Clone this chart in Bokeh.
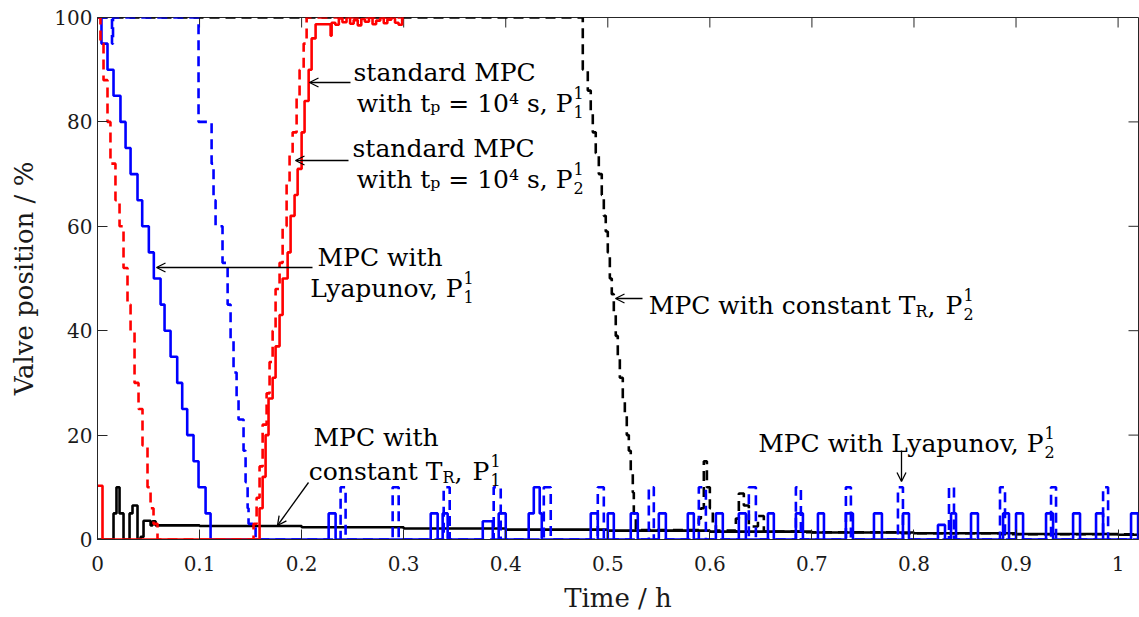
from bokeh.plotting import figure
from bokeh.models import Range1d, FixedTicker, Label, Arrow, OpenHead
from bokeh.embed import file_html
from bokeh.resources import INLINE

# ---------------- data (time in h, valve position in %) ----------------
x_ticks = [0, 0.1, 0.2, 0.3, 0.4, 0.5, 0.6, 0.7, 0.8, 0.9, 1]
x_tick_labels = ["0", "0.1", "0.2", "0.3", "0.4", "0.5", "0.6", "0.7", "0.8", "0.9", "1"]
y_ticks = [0, 20, 40, 60, 80, 100]
y_tick_labels = ["0", "20", "40", "60", "80", "100"]

# standard MPC, t_p = 1e4 s, P1^1 (red solid)
red_solid_t = [0, 0.0049, 0.1588, 0.1618, 0.1647, 0.1676, 0.1716, 0.1745, 0.1784, 0.1814,
               0.1863, 0.1892, 0.1931, 0.1961, 0.2000, 0.2029, 0.2069, 0.2098, 0.2137, 0.2284,
               0.2294, 0.2330, 0.2365, 0.2400, 0.2440, 0.2475, 0.2510, 0.2550, 0.2585, 0.2620,
               0.2660, 0.2695, 0.2730, 0.2770, 0.2805, 0.2840, 0.2880, 0.2915, 0.2950, 0.2985, 0.3000]
red_solid_v = [10.3, 0, 6, 12, 20, 27, 31, 37, 43, 50,
               55, 62, 66, 71, 78, 84, 90, 96, 98.7, 96.5,
               99.0, 98.6, 99.8, 99.1, 100, 98.8, 99.5, 98.5, 99.7, 99.2,
               100, 98.7, 99.4, 99.9, 98.9, 99.6, 100, 99.0, 98.6, 99.8, 99.8]

# standard MPC, t_p = 1e4 s, P2^1 (red dashed)
red_dash_t = [0, 0.0029, 0.0059, 0.0098, 0.0127, 0.0176, 0.0216, 0.0255, 0.0294, 0.0324,
              0.0363, 0.0402, 0.0441, 0.0490, 0.0520, 0.0549, 0.0588, 0.1529, 0.1559, 0.1588,
              0.1618, 0.1657, 0.1686, 0.1716, 0.1745, 0.1784, 0.1814, 0.1853, 0.1882, 0.1912,
              0.1951, 0.1980, 0.2020, 0.2049, 0.3000]
red_dash_v = [100, 95, 88, 80, 72, 65, 60, 52, 45, 40,
              30, 25, 18, 10, 6, 3, 0, 3, 8, 14,
              22, 28, 34, 40, 48, 53, 60, 68, 74, 78,
              85, 90, 95, 100, 100]

# MPC with Lyapunov, P1^1 (blue solid): descent, then short openings
blue_solid_t = [0, 0.0039, 0.0098, 0.0157, 0.0225, 0.0275, 0.0324, 0.0392, 0.0438, 0.0503,
                0.0552, 0.0618, 0.0657, 0.0716, 0.0781, 0.0830, 0.0879, 0.0941, 0.0990, 0.1059, 0.1108]
blue_solid_v = [100, 95, 90, 85, 80, 75, 70, 65, 60, 55,
                50, 45, 40, 35, 30, 25, 20, 15, 10, 5, 0]
blue_solid_on = [0.2265, 0.3265, 0.3382, 0.3775, 0.3931, 0.4225, 0.4275, 0.4833, 0.5000, 0.5225,
                 0.5500, 0.5784, 0.6059, 0.6284, 0.6569, 0.6843, 0.7059, 0.7333, 0.7608, 0.7892,
                 0.8235, 0.8363, 0.8559, 0.8873, 0.9000, 0.9294, 0.9559, 0.9784, 1.0127]
blue_solid_off = [0.2333, 0.3333, 0.3431, 0.3873, 0.4000, 0.4353, 0.4333, 0.4902, 0.5059, 0.5294,
                  0.5569, 0.5843, 0.6127, 0.6353, 0.6627, 0.6912, 0.7118, 0.7402, 0.7686, 0.7951,
                  0.8304, 0.8412, 0.8627, 0.8931, 0.9069, 0.9363, 0.9627, 0.9853, 1.0196]
blue_solid_h = [5, 5, 5, 3.5, 5, 5, 10, 5, 5, 5,
                5, 5, 5, 5, 5, 5, 5, 5, 5, 5,
                2.8, 5, 5, 5, 5, 5, 5, 5, 5]

# MPC with Lyapunov, P2^1 (blue dashed)
blue_dash_t = [0, 0.0142, 0.0152, 0.0990, 0.1118, 0.1137, 0.1157, 0.1225, 0.1275, 0.1304,
               0.1333, 0.1363, 0.1382, 0.1431, 0.1451, 0.1471, 0.1480, 0.1549]
blue_dash_v = [100, 95, 100, 80, 72, 65, 60, 53, 45, 38,
               32, 27, 23, 17, 11, 6, 3, 0]
blue_dash_on = [0.2382, 0.2892, 0.3392, 0.3882, 0.4373, 0.4902, 0.5402, 0.5892, 0.6382, 0.6843,
                0.7333, 0.7843, 0.8343, 0.8843, 0.9343, 0.9853]
blue_dash_off = [0.2431, 0.2951, 0.3451, 0.3951, 0.4441, 0.4961, 0.5451, 0.5961, 0.6451, 0.6892,
                 0.7382, 0.7892, 0.8392, 0.8892, 0.9392, 0.9902]
blue_dash_h = [10, 10, 10, 10, 10, 10, 10, 10, 10, 10, 10, 10, 10, 10, 10, 10]

# MPC with constant T_R, P1^1 (black solid)
black_solid_t = [0, 0.0157, 0.0186, 0.0216, 0.0255, 0.0314, 0.0343, 0.0392, 0.0422, 0.0451,
                 0.0520, 0.0539, 0.0569, 0.0588, 0.1, 0.2, 0.3, 0.4, 0.5, 0.6,
                 0.7, 0.8, 0.9, 1.0, 1.02]
black_solid_v = [0, 5, 10, 5, 0, 5, 6.5, 0, 0.5, 3.6,
                 2.7, 3.5, 2.7, 2.7, 2.6, 2.35, 2.1, 1.9, 1.7, 1.5,
                 1.35, 1.2, 1.05, 0.9, 0.85]

# MPC with constant T_R, P2^1 (black dashed)
black_dash_t = [0, 0.4755, 0.4804, 0.4833, 0.4853, 0.4882, 0.4912, 0.4941, 0.4961, 0.4980,
                0.5000, 0.5020, 0.5039, 0.5059, 0.5078, 0.5098, 0.5118, 0.5147, 0.5167, 0.5186,
                0.5206, 0.5225, 0.5245, 0.5255, 0.5275, 0.5324, 0.5892, 0.5912, 0.5941, 0.5971,
                0.6000, 0.6029, 0.6059, 0.6255, 0.6284, 0.6333, 0.6382, 0.6471, 0.6529, 0.6892,
                0.7873, 0.8853, 1.02]
black_dash_v = [100, 90, 86, 82, 78, 74, 70, 66, 62, 59,
                55, 50, 47, 43, 39, 35, 31, 27, 24, 20,
                17, 13, 9, 5, 2, 1.8, 4, 6, 15, 10,
                6, 3, 1.7, 4, 8.8, 6.5, 2.5, 4.5, 1.5, 1.4,
                1.2, 1.0, 0.9]

T_END = 1.02
Y_MAX = 100


def with_openings(t0, v0, on, off, h, t_end):
    """Append openings (intervals at height h over a closed valve) to a step series."""
    t, v = list(t0), list(v0)
    for b in sorted(set(on + off)):
        lvl = max([hh for s, e, hh in zip(on, off, h) if s <= b < e], default=0)
        t.append(b)
        v.append(lvl)
    t.append(t_end)
    v.append(v[-1])
    return t, v


bs_t, bs_v = with_openings(blue_solid_t, blue_solid_v, blue_solid_on, blue_solid_off, blue_solid_h, T_END)
bd_t, bd_v = with_openings(blue_dash_t, blue_dash_v, blue_dash_on, blue_dash_off, blue_dash_h, T_END)

# ---------------- figure ----------------
FONT = "DejaVu Serif"
INK = "#1a1a1a"
AX = "#262626"
p = figure(width=1139, height=617, output_backend="svg", toolbar_location=None,
           x_range=Range1d(0, T_END), y_range=Range1d(0, Y_MAX),
           min_border_left=97, min_border_right=1, min_border_top=17, min_border_bottom=78)
p.xgrid.visible = False
p.ygrid.visible = False
p.outline_line_color = AX
p.outline_line_width = 1
p.background_fill_color = "white"
p.border_fill_color = "white"

p.xaxis.ticker = FixedTicker(ticks=x_ticks)
p.xaxis.major_label_overrides = {t: l for t, l in zip(x_ticks, x_tick_labels)}
p.yaxis.ticker = FixedTicker(ticks=y_ticks)
p.yaxis.major_label_overrides = {t: l for t, l in zip(y_ticks, y_tick_labels)}
p.xaxis.axis_label = "Time / h"
p.yaxis.axis_label = "Valve position / %"
for ax in (p.xaxis[0], p.yaxis[0]):
    ax.major_tick_in = 10
    ax.major_tick_out = 0
    ax.minor_tick_line_color = None
    ax.axis_line_color = AX
    ax.major_tick_line_color = AX
    ax.major_label_text_font = FONT
    ax.major_label_text_font_size = "20px"
    ax.major_label_text_color = INK
    ax.axis_label_text_font = FONT
    ax.axis_label_text_font_size = "26px"
    ax.axis_label_text_font_style = "normal"
    ax.axis_label_text_color = INK
p.xaxis.major_label_standoff = 16
p.xaxis.axis_label_standoff = 9
p.yaxis.major_label_standoff = 5
p.yaxis.axis_label_standoff = 12

# mirrored inward ticks on the top and right edges of the box (10 px long)
TICK_PX = 10
py_per_unit = 522 / Y_MAX
px_per_unit = 1041 / T_END
p.segment(x0=x_ticks, y0=[Y_MAX] * len(x_ticks), x1=x_ticks,
          y1=[Y_MAX - TICK_PX / py_per_unit] * len(x_ticks), line_color=AX, line_width=1)
p.segment(x0=[T_END] * len(y_ticks), y0=y_ticks, x1=[T_END - TICK_PX / px_per_unit] * len(y_ticks),
          y1=y_ticks, line_color=AX, line_width=1)

LW = 2.6
DASH = "10 6"
p.step(black_solid_t, black_solid_v, mode="after", line_color="black", line_width=LW)
p.step(black_dash_t, black_dash_v, mode="after", line_color="black", line_width=LW, line_dash=DASH)
p.step(bd_t, bd_v, mode="after", line_color="#0000ff", line_width=LW, line_dash=DASH)
p.step(bs_t, bs_v, mode="after", line_color="#0000ff", line_width=LW)
p.step(red_dash_t, red_dash_v, mode="after", line_color="#ff0000", line_width=LW, line_dash=DASH)
p.step(red_solid_t, red_solid_v, mode="after", line_color="#ff0000", line_width=LW)

# ---------------- annotations (placed by pixel position in the frame) ----------------
def fx(px):
    return (px - 97) / px_per_unit


def fy(py):
    return (539 - py) / py_per_unit


TS = "25px"
SS = "16px"


def txt(px, py, s, align="left", size=TS):
    p.add_layout(Label(x=fx(px), y=fy(py), text=s, text_font=FONT, text_font_size=size,
                       text_color="black", text_align=align, text_baseline="alphabetic"))


def idx(px, py, sup, sub):
    txt(px, py - 11, sup, size=SS)
    txt(px, py + 8, sub, size=SS)


def arrow(x0, y0, x1, y1):
    p.add_layout(Arrow(end=OpenHead(size=9, line_width=1.3, line_color="black"),
                       x_start=fx(x0), y_start=fy(y0), x_end=fx(x1), y_end=fy(y1),
                       line_width=1.3, line_color="black"))


txt(353, 72, "standard MPC")
txt(572, 103, "with tₚ = 10⁴ s, P", align="right")
idx(573, 103, "1", "1")
arrow(350, 82, 309, 82)

txt(352, 148, "standard MPC")
txt(572, 179, "with tₚ = 10⁴ s, P", align="right")
idx(573, 179, "1", "2")
arrow(348, 160, 295, 160)

txt(317, 257, "MPC with")
txt(462, 288, "Lyapunov, P", align="right")
idx(463, 288, "1", "1")
arrow(312, 267, 156, 267)

txt(313, 437, "MPC with")
txt(442, 471, "constant T", align="right")
txt(442, 477, "R", size=SS)
txt(454, 471, ",")
txt(472, 471, "P")
idx(490, 471, "1", "1")
arrow(308, 482, 277, 525)

txt(915, 305, "MPC with constant T", align="right")
txt(915, 311, "R", size=SS)
txt(927, 305, ",")
txt(945, 305, "P")
idx(963, 305, "1", "2")
arrow(642, 298, 615, 298)

txt(1043, 443, "MPC with Lyapunov, P", align="right")
idx(1044, 443, "1", "2")
arrow(901, 450, 901, 481)

open("out.html", "w").write(file_html(p, INLINE))
